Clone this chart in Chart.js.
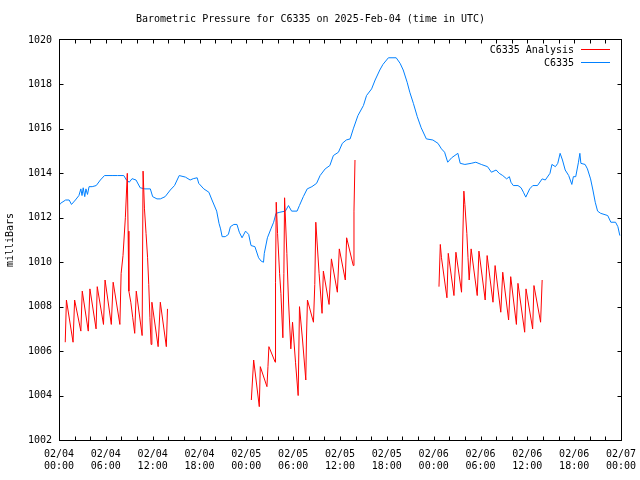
<!DOCTYPE html>
<html>
<head>
<meta charset="utf-8">
<script src="https://cdn.jsdelivr.net/npm/chart.js@4/dist/chart.umd.min.js"></script>
<style>
  body { margin: 0; background: #fff; }
  #wrap { width: 640px; height: 480px; }
</style>
</head>
<body>
<div id="wrap"><canvas id="myChart" width="640" height="480"></canvas></div>
<script>
// hours since 02/04 00:00 UTC
var stationHours = [0.0, 0.2, 0.85, 1.3, 1.6, 2.1, 2.55, 2.8, 2.95, 3.1, 3.3, 3.45, 3.65, 3.85, 4.25, 4.77,
    5.3, 5.83, 6.8, 7.5, 8.3, 8.64, 9.0, 9.36, 9.87, 10.4, 11.0, 11.7, 12.0, 12.55, 12.98, 13.6,
    14.26, 14.8, 15.4, 16.2, 16.8, 17.2, 17.7, 17.9, 18.55, 19.2, 19.6, 20.2, 20.5, 20.7, 20.9, 21.3,
    21.7, 21.96, 22.4, 22.8, 23.1, 23.45, 23.9, 24.3, 24.6, 25.1, 25.57, 25.9, 26.2, 26.3, 26.7, 27.15,
    27.5, 27.8, 28.3, 29.0, 29.4, 29.8, 30.5, 30.8, 31.3, 31.8, 32.4, 33.0, 33.45, 34.1, 34.7, 35.15,
    35.8, 36.3, 36.8, 37.3, 37.7, 38.3, 39.0, 39.4, 40.05, 40.5, 41.1, 41.5, 42.2, 43.2, 43.7, 44.1,
    44.6, 44.94, 45.4, 45.9, 46.4, 47.06, 47.9, 48.55, 49.0, 49.4, 49.8, 50.3, 51.1, 51.4, 52.0, 52.8,
    53.4, 54.1, 54.9, 55.4, 56.0, 56.4, 56.85, 57.35, 57.7, 57.9, 58.2, 58.8, 59.2, 59.5, 59.8, 60.3,
    60.7, 61.3, 61.9, 62.3, 62.9, 63.15, 63.6, 63.9, 64.2, 64.5, 64.85, 65.3, 65.7, 65.9, 66.2, 66.55,
    66.73, 66.86, 67.4, 67.7, 68.1, 68.4, 68.7, 69.0, 69.4, 70.3, 70.7, 71.3, 71.6, 71.85];
var stationMb = [1012.55, 1012.65, 1012.8, 1012.8, 1012.6, 1012.8, 1013.0, 1013.3, 1013.0, 1013.35, 1012.95, 1013.3, 1013.05, 1013.4, 1013.4, 1013.45,
    1013.7, 1013.9, 1013.9, 1013.9, 1013.9, 1013.7, 1013.6, 1013.76, 1013.7, 1013.35, 1013.3, 1013.3, 1012.95, 1012.85, 1012.85, 1012.95,
    1013.25, 1013.45, 1013.9, 1013.83, 1013.7, 1013.76, 1013.8, 1013.55, 1013.3, 1013.15, 1012.8, 1012.3, 1011.75, 1011.5, 1011.15, 1011.15,
    1011.25, 1011.6, 1011.7, 1011.7, 1011.35, 1011.1, 1011.4, 1011.25, 1010.75, 1010.7, 1010.2, 1010.05, 1010.0, 1010.4, 1011.1, 1011.5,
    1011.8, 1012.2, 1012.25, 1012.3, 1012.55, 1012.3, 1012.3, 1012.55, 1012.95, 1013.3, 1013.4, 1013.55, 1013.9, 1014.2, 1014.35, 1014.8,
    1014.95, 1015.35, 1015.5, 1015.55, 1016.0, 1016.6, 1017.05, 1017.5, 1017.8, 1018.2, 1018.65, 1018.9, 1019.2, 1019.2, 1018.95, 1018.65,
    1018.1, 1017.65, 1017.15, 1016.55, 1016.05, 1015.55, 1015.5, 1015.35, 1015.1, 1014.95, 1014.5, 1014.7, 1014.9, 1014.45, 1014.4, 1014.45,
    1014.5, 1014.4, 1014.3, 1014.05, 1014.15, 1014.0, 1013.9, 1013.75, 1013.85, 1013.6, 1013.45, 1013.45, 1013.35, 1013.15, 1012.93, 1013.3,
    1013.45, 1013.45, 1013.75, 1013.7, 1014.0, 1014.4, 1014.3, 1014.45, 1014.9, 1014.6, 1014.15, 1013.9, 1013.5, 1013.85, 1013.85, 1014.5,
    1014.9, 1014.45, 1014.4, 1014.2, 1013.75, 1013.25, 1012.7, 1012.3, 1012.2, 1012.1, 1011.8, 1011.8, 1011.6, 1011.2];

// analysis runs, three blocks (null = gap)
var analysisHours = [0.8, 0.95, 1.8, 2.0, 2.8, 2.98, 3.75, 3.96, 4.75, 4.9, 5.7, 5.9, 6.7, 6.94, 7.8, 7.96,
    8.2, 8.5, 8.75, 8.85, 8.95, 9.2, 9.45, 9.7, 9.9, 10.65, 10.77, 10.95, 11.15, 11.35, 11.5, 11.65,
    11.8, 11.9, 12.7, 12.98, 13.75, 13.9,
    20,
    24.64, 24.94, 25.66, 25.79, 26.64, 26.77, 26.89, 27.7, 27.74, 27.83, 28.0, 28.26, 28.43, 28.68, 28.81, 28.9,
    29.19, 29.4, 29.7, 29.92, 30.3, 30.64, 30.81, 31.2, 31.62, 31.7, 31.83, 32.6, 32.77, 32.9, 33.32, 33.7,
    33.87, 34.6, 34.9, 35.66, 35.91, 36.68, 36.85, 37.7, 37.79, 37.92,
    44,
    48.68, 48.85, 49.0, 49.7, 49.87, 50.6, 50.85, 51.57, 51.87, 52.0, 52.13, 52.25, 52.4, 52.55, 52.8, 53.58,
    53.8, 54.6, 54.85, 55.6, 55.87, 56.6, 56.85, 57.6, 57.87, 58.6, 58.8, 59.66, 59.83, 60.68, 60.85, 61.7,
    61.9];
var analysisMb = [1006.4, 1008.3, 1006.4, 1008.3, 1006.9, 1008.7, 1006.9, 1008.8, 1007.0, 1008.9, 1007.2, 1009.2, 1007.2, 1009.1, 1007.2, 1009.5,
    1010.3, 1012.0, 1014.0, 1011.4, 1008.7, 1008.2, 1007.5, 1006.8, 1008.7, 1006.7, 1014.1, 1012.4, 1011.3, 1010.2, 1009.0, 1007.5,
    1006.3, 1008.2, 1006.2, 1008.2, 1006.2, 1007.9,
    null,
    1003.8, 1005.6, 1003.5, 1005.3, 1004.4, 1005.3, 1006.2, 1005.5, 1009.1, 1012.7, 1011.3, 1009.5, 1008.6, 1006.6, 1009.5, 1012.9,
    1010.4, 1008.3, 1006.1, 1007.3, 1005.5, 1004.0, 1008.0, 1006.5, 1004.7, 1006.5, 1008.3, 1007.3, 1009.0, 1011.8, 1009.5, 1007.7,
    1009.6, 1008.1, 1010.15, 1008.65, 1010.6, 1009.2, 1011.1, 1009.85, 1012.3, 1014.6,
    null,
    1008.9, 1010.8, 1010.2, 1008.4, 1010.4, 1008.5, 1010.45, 1008.65, 1013.2, 1012.6, 1011.9, 1011.3, 1010.2, 1009.2, 1010.6, 1008.5,
    1010.5, 1008.3, 1010.3, 1008.2, 1009.85, 1007.75, 1009.55, 1007.4, 1009.35, 1007.2, 1009.05, 1006.85, 1008.8, 1007.0, 1008.95, 1007.3,
    1009.2];

var xTickLabels = [['02/04', '00:00'], ['02/04', '06:00'], ['02/04', '12:00'], ['02/04', '18:00'],
    ['02/05', '00:00'], ['02/05', '06:00'], ['02/05', '12:00'], ['02/05', '18:00'],
    ['02/06', '00:00'], ['02/06', '06:00'], ['02/06', '12:00'], ['02/06', '18:00'],
    ['02/07', '00:00']];

var monoFont = '"DejaVu Sans Mono", "Liberation Mono", monospace';

function toPoints(xs, ys) {
    var pts = [];
    for (var i = 0; i < xs.length; i++) {
        pts.push({ x: xs[i], y: ys[i] });
    }
    return pts;
}

// gnuplot-like frame, inward ticks and legend
var gnuplotLook = {
    id: 'gnuplotLook',
    afterDraw: function (chart) {
        var ctx = chart.ctx;
        var a = chart.chartArea;
        var sx = chart.scales.x, sy = chart.scales.y;
        var L = Math.floor(a.left) + 0.5, R = Math.floor(a.right) + 0.5;
        var T = Math.floor(a.top) - 0.5, B = Math.floor(a.bottom) + 0.5;
        ctx.save();
        ctx.strokeStyle = '#000';
        ctx.lineWidth = 1;
        ctx.strokeRect(L, T, R - L, B - T);
        ctx.beginPath();
        for (var h = 2; h < 72; h += 2) {
            var px = Math.round(sx.getPixelForValue(h)) + 0.5;
            ctx.moveTo(px, B); ctx.lineTo(px, B - 4);
            ctx.moveTo(px, T); ctx.lineTo(px, T + 4);
        }
        for (var v = 1004; v < 1020; v += 2) {
            var py = Math.round(sy.getPixelForValue(v)) + 0.5;
            ctx.moveTo(L, py); ctx.lineTo(L + 4, py);
            ctx.moveTo(R, py); ctx.lineTo(R - 4, py);
        }
        ctx.stroke();

        ctx.font = '10px ' + monoFont;
        ctx.fillStyle = '#000';
        ctx.textAlign = 'right';
        ctx.textBaseline = 'middle';
        chart.data.datasets.forEach(function (ds, i) {
            var y = 50 + i * 13;
            ctx.fillText(ds.label, 574, y);
            ctx.strokeStyle = ds.borderColor;
            ctx.beginPath();
            ctx.moveTo(581, y - 0.5);
            ctx.lineTo(610, y - 0.5);
            ctx.stroke();
        });
        ctx.restore();
    }
};

Chart.defaults.color = '#000';
Chart.defaults.font.family = monoFont;
Chart.defaults.font.size = 10;

var ctx = document.getElementById('myChart').getContext('2d');
var myChart = new Chart(ctx, {
    type: 'line',
    data: {
        datasets: [
            {
                label: 'C6335 Analysis',
                data: toPoints(analysisHours, analysisMb),
                borderColor: 'rgb(255,0,0)',
                borderWidth: 1,
                pointRadius: 0,
                spanGaps: false,
                fill: false
            },
            {
                label: 'C6335',
                data: toPoints(stationHours, stationMb),
                borderColor: 'rgb(0,128,255)',
                borderWidth: 1,
                pointRadius: 0,
                fill: false
            }
        ]
    },
    options: {
        responsive: false,
        animation: false,
        layout: { padding: { left: 0, right: 19, top: 0, bottom: 0 } },
        plugins: {
            legend: { display: false },
            tooltip: { enabled: false },
            title: {
                display: true,
                text: 'Barometric Pressure for C6335 on 2025-Feb-04 (time in UTC)',
                font: { family: monoFont, size: 10, weight: 'normal', lineHeight: 1.2 },
                padding: { top: 13, bottom: 15 }
            }
        },
        scales: {
            x: {
                type: 'linear',
                min: 0,
                max: 72,
                grid: { display: false, drawTicks: false },
                border: { display: false },
                afterFit: function (scale) {
                    scale.height = 40;
                    scale.paddingLeft = 0;
                    scale.paddingRight = 0;
                },
                afterBuildTicks: function (scale) {
                    var t = [];
                    for (var i = 0; i < xTickLabels.length; i++) t.push({ value: i * 6 });
                    scale.ticks = t;
                },
                ticks: {
                    autoSkip: false,
                    maxRotation: 0,
                    padding: 8,
                    font: { family: monoFont, size: 10, lineHeight: 1.25 },
                    callback: function (value) { return xTickLabels[Math.round(value / 6)]; }
                }
            },
            y: {
                min: 1002,
                max: 1020,
                grid: { display: false, drawTicks: false },
                border: { display: false },
                afterFit: function (scale) {
                    scale.width = 59;
                    scale.paddingTop = 0;
                    scale.paddingBottom = 0;
                },
                ticks: {
                    stepSize: 2,
                    padding: 7,
                    font: { family: monoFont, size: 10 },
                    callback: function (value) { return String(value); }
                },
                title: {
                    display: true,
                    text: 'milliBars',
                    font: { family: monoFont, size: 10 },
                    padding: { top: 4, bottom: 0 }
                }
            }
        }
    },
    plugins: [gnuplotLook]
});
</script>
</body>
</html>
